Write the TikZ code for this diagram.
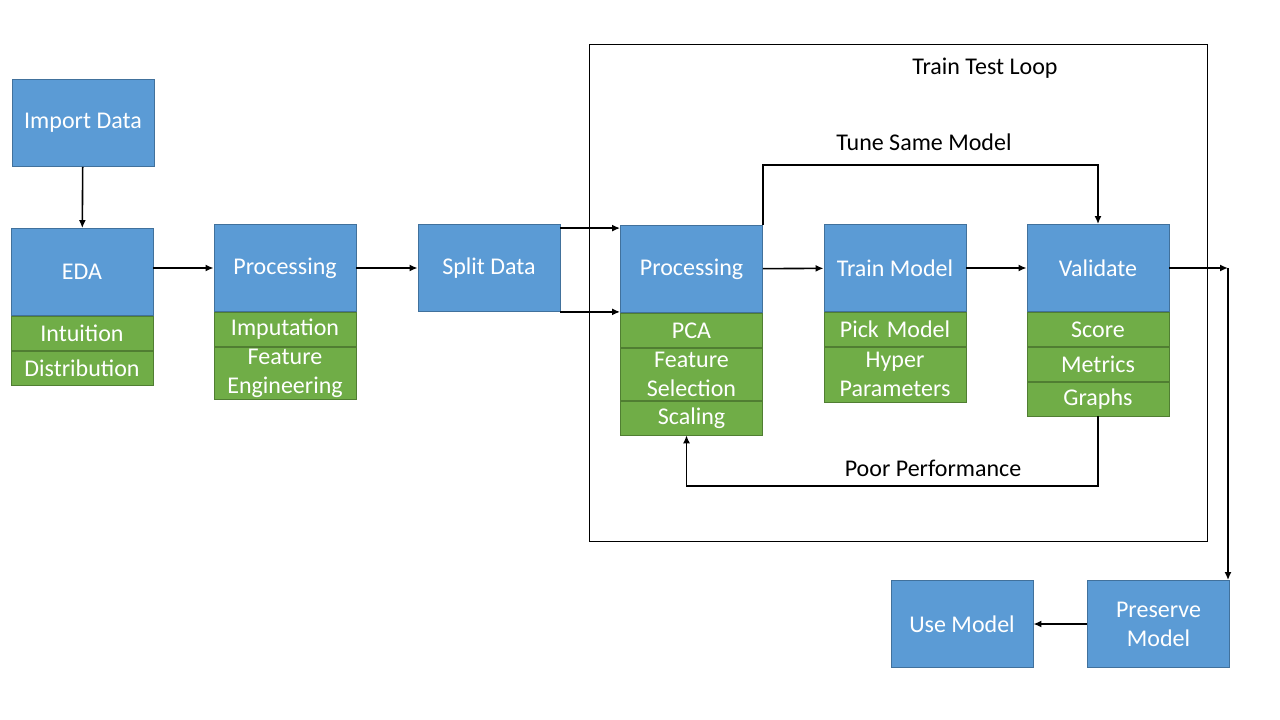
\documentclass[tikz,border=0pt]{standalone}
\usepackage{fontspec}
\setmainfont{Carlito}
\usetikzlibrary{positioning,arrows.meta}

\definecolor{boxblue}{HTML}{5B9BD5}
\definecolor{edgeblue}{HTML}{41719C}
\definecolor{boxgreen}{HTML}{70AD47}
\definecolor{edgegreen}{HTML}{507E32}

\tikzset{
  stage/.style={draw=edgeblue, fill=boxblue, text=white, line width=0.8pt,
    minimum width=142pt, minimum height=87pt, inner sep=0pt,
    font=\fontsize{24}{29}\selectfont, align=center},
  task/.style={draw=edgegreen, fill=boxgreen, text=white, line width=0.8pt,
    minimum width=142pt, minimum height=34pt, inner sep=0pt,
    text width=140pt, font=\fontsize{24}{29}\selectfont, align=center},
  tasktwo/.style={task, minimum height=52pt},
  flow/.style={-{Latex[length=8pt,width=7pt]}, line width=1.6pt},
  caption/.style={font=\fontsize{24}{28}\selectfont}
}

\begin{document}
\begin{tikzpicture}[x=1pt, y=-1pt]
  \useasboundingbox (0,0) rectangle (1280,720);

  % Train test loop frame
  \draw[line width=0.9pt] (589,44) rectangle (1207,541);
  \node[caption] (looptitle) at (985,68) {Train Test Loop};

  % Stages
  \node[stage] (importdata) at (83,123) {Import Data};
  \node[stage] (eda) at (82,272) {EDA};
  \node[task, below=0pt of eda] (intuition) {Intuition};
  \node[task, below=0pt of intuition] (distribution) {Distribution};

  \node[stage] (proc) at (285,268) {Processing};
  \node[task, below=0pt of proc] (imputation) {Imputation};
  \node[tasktwo, below=0pt of imputation] (feateng) {Feature\\Engineering};

  \node[stage] (split) at (489,268) {Split Data};

  \node[stage] (proctt) at (691.5,269) {Processing};
  \node[task, below=0pt of proctt] (pca) {PCA};
  \node[tasktwo, below=0pt of pca] (featsel) {Feature\\Selection};
  \node[task, below=0pt of featsel] (scaling) {Scaling};

  \node[stage] (train) at (895,268) {Train Model};
  \node[task, below=0pt of train] (pick) {Pick Model};
  \node[tasktwo, minimum height=55pt, below=0pt of pick] (hyper) {Hyper\\Parameters};

  \node[stage] (validate) at (1098,268) {Validate};
  \node[task, below=0pt of validate] (score) {Score};
  \node[task, below=0pt of score] (metrics) {Metrics};
  \node[task, below=0pt of metrics] (graphs) {Graphs};

  \node[stage] (usemodel) at (962,624) {Use Model};
  \node[stage] (preserve) at (1158.5,624) {Preserve\\Model};

  % Loop labels
  \node[caption] (tunelabel) at (924,142) {Tune Same Model};
  \node[caption] (poorlabel) at (933,468) {Poor Performance};
  \coordinate (tuneline) at (0,165);
  \coordinate (poorline) at (0,486);
  \coordinate (corner) at (1228,268);

  % Edges
  \draw[flow] (importdata) -- (eda);
  \draw[flow] (eda.east |- proc.west) -- (proc.west);
  \draw[flow] (proc) -- (split);
  \draw[flow] ([yshift=-4pt]split.north east) -- ([yshift=-4pt]split.north east -| proctt.west);
  \draw[flow] (split.south east) -- (split.south east -| proctt.west);
  \draw[flow] (proctt) -- (train);
  \draw[flow] (train) -- (validate);
  \draw[flow] (proctt.north east) -- (proctt.north east |- tuneline) -| (validate.north);
  \draw[flow] (graphs.south) -- (graphs.south |- poorline) -| ([xshift=-5pt]scaling.south);
  \draw[flow] (validate) -- (corner);
  \draw[flow] (corner) -- (corner |- preserve.north);
  \draw[flow] (preserve) -- (usemodel);
\end{tikzpicture}
\end{document}
